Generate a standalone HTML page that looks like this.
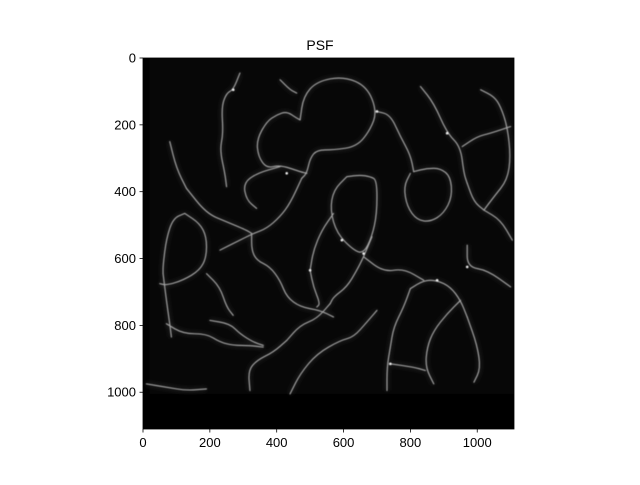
<!DOCTYPE html>
<html><head><meta charset="utf-8"><style>
html,body{margin:0;padding:0;background:#fff;}
svg text{font-family:"Liberation Sans","DejaVu Sans",sans-serif;font-size:13px;fill:#000;}
</style></head><body>
<svg id="chart" width="640" height="480" viewBox="0 0 640 480">
<defs>
<filter id="blur" x="-5%" y="-5%" width="110%" height="110%"><feGaussianBlur stdDeviation="0.45"/></filter>
<filter id="glow" x="-20%" y="-20%" width="140%" height="140%"><feGaussianBlur stdDeviation="2.5"/></filter>
<clipPath id="clip"><rect x="143" y="58" width="371" height="371"/></clipPath>
</defs>
<text x="320" y="50" text-anchor="middle" style="font-size:14px">PSF</text>
<g id="img" clip-path="url(#clip)"></g>
<g id="axes"></g>
</svg>
<script>
const xTicks = [0,200,400,600,800,1000];
const yTicks = [0,200,400,600,800,1000];
const extent = 1110;
const membranes = [
 [[470,185],[480,115],[520,70],[600,55],[670,85],[700,160],[680,215],[640,265],[570,275],[520,275],[500,300],[490,345],[475,360]],
 [[470,185],[460,180],[430,160],[400,170],[370,190],[340,245],[345,295],[370,330],[410,320],[470,340],[490,345]],
 [[410,325],[340,345],[300,375],[310,425],[340,450]],
 [[700,160],[740,170],[770,235],[800,290],[810,340]],
 [[475,360],[440,435],[410,475],[370,510],[330,525],[290,545],[230,575]],
 [[325,525],[325,575],[340,605],[380,625],[410,665],[430,715],[470,745],[530,755],[570,775]],
 [[125,465],[170,495],[190,535],[190,595],[170,635],[120,665],[70,680],[50,675]],
 [[125,465],[90,480],[70,540],[60,620],[60,645]],
 [[130,390],[190,465],[250,490],[310,515],[325,525]],
 [[610,355],[570,395],[560,455],[580,525],[630,575],[660,585],[685,535],[700,465],[700,365],[680,355],[650,350],[610,355]],
 [[685,535],[660,595],[640,635],[610,685],[570,715],[560,735]],
 [[500,635],[510,685],[530,735],[520,745]],
 [[500,635],[510,575],[535,515],[570,465]],
 [[440,1005],[470,945],[520,885],[590,845],[630,835],[670,790],[700,755]],
 [[800,345],[780,385],[790,445],[820,485],[860,490],[900,465],[925,415],[920,355],[890,330],[850,330],[810,340]],
 [[830,85],[870,135],[910,225],[950,265],[960,345],[970,375]],
 [[955,265],[1000,235],[1040,225],[1100,205]],
 [[1010,95],[1050,115],[1070,145],[1090,205],[1100,295],[1090,365],[1050,415],[1020,455]],
 [[1020,455],[1070,485],[1105,545]],
 [[970,375],[990,430],[1020,455]],
 [[800,690],[840,665],[880,665],[920,685],[950,725],[970,775]],
 [[970,560],[970,625],[1030,635],[1100,685]],
 [[950,725],[910,765],[870,815],[850,865],[845,925],[870,975]],
 [[800,690],[780,745],[750,805],[740,865],[730,925],[730,995]],
 [[740,915],[810,925],[845,935]],
 [[660,595],[720,640],[780,630],[840,665]],
 [[10,975],[70,985],[130,995],[190,990]],
 [[70,795],[120,825],[190,825],[230,850],[270,860],[320,860],[360,865]],
 [[200,785],[260,795],[290,825],[330,850],[360,860]],
 [[60,645],[70,725],[80,795],[85,835]],
 [[190,645],[230,685],[250,745],[270,770]],
 [[320,995],[315,935],[340,905],[390,880],[430,845]],
 [[290,45],[270,95],[250,105],[235,145],[240,225],[230,275],[245,345],[250,385]],
 [[410,65],[440,95],[460,105]],
 [[970,775],[1000,860],[1010,930],[990,970]],
 [[130,390],[100,330],[80,250]],
 [[560,735],[520,780],[470,800],[430,845]]
];
const bright = [[660,585],[595,545],[500,635],[880,665],[970,625],[740,915],[430,345],[270,95],[700,160],[910,225]];
const NS='http://www.w3.org/2000/svg';
const X0=143,Y0=58,S=371/extent;
const sx=v=>X0+v*S, sy=v=>Y0+v*S;
const img=document.getElementById('img');
function mk(t,a){const e=document.createElementNS(NS,t);for(const k in a)e.setAttribute(k,a[k]);return e;}
const bg=mk('rect',{x:X0,y:Y0,width:371,height:371,fill:'#000'});


img.appendChild(bg);
const tissue=mk('rect',{x:sx(20),y:sy(0),width:sx(1110)-sx(20),height:sy(1005)-sy(0),fill:'#070707'});


img.appendChild(tissue);
function pathD(pts){let d='M'+sx(pts[0][0])+' '+sy(pts[0][1]);
 for(let i=1;i<pts.length;i++){const p0=pts[i-1],p1=pts[i];const mx=(p0[0]+p1[0])/2,my=(p0[1]+p1[1])/2;
  d+=' Q'+sx(p0[0])+' '+sy(p0[1])+' '+sx(mx)+' '+sy(my);}
 const l=pts[pts.length-1];d+=' L'+sx(l[0])+' '+sy(l[1]);return d;}
const glowG=mk('g',{filter:'url(#glow)'});img.appendChild(glowG);
const lineG=mk('g',{filter:'url(#blur)'});img.appendChild(lineG);
membranes.forEach((m)=>{
 const g=mk('path',{d:pathD(m),fill:'none',stroke:'#444',"stroke-width":4,opacity:0.35});
 
 
 glowG.appendChild(g);
 const p=mk('path',{d:pathD(m),fill:'none',stroke:'#a8a8a8',"stroke-width":1.1,"stroke-linecap":'round'});
 
 
 lineG.appendChild(p);
});
bright.forEach(b=>{
 const c=mk('circle',{cx:sx(b[0]),cy:sy(b[1]),r:1.3,fill:'#eee'});
 
 
 lineG.appendChild(c);
});
const ax=document.getElementById('axes');
const fr=mk('rect',{x:X0,y:Y0,width:371,height:371,fill:'none',stroke:'#000',"stroke-width":0.8});


ax.appendChild(fr);
xTicks.forEach(t=>{
 const l=mk('line',{x1:sx(t),x2:sx(t),y1:429,y2:432.5,stroke:'#000',"stroke-width":0.8});
 
 
 ax.appendChild(l);
 const tx=mk('text',{x:sx(t),y:447,"text-anchor":'middle'});tx.textContent=t;
 
 
 ax.appendChild(tx);
});
yTicks.forEach(t=>{
 const l=mk('line',{x1:139.5,x2:143,y1:sy(t),y2:sy(t),stroke:'#000',"stroke-width":0.8});
 
 
 ax.appendChild(l);
 const tx=mk('text',{x:136,y:sy(t)+4.5,"text-anchor":'end'});tx.textContent=t;
 
 
 ax.appendChild(tx);
});
</script>
</body></html>
